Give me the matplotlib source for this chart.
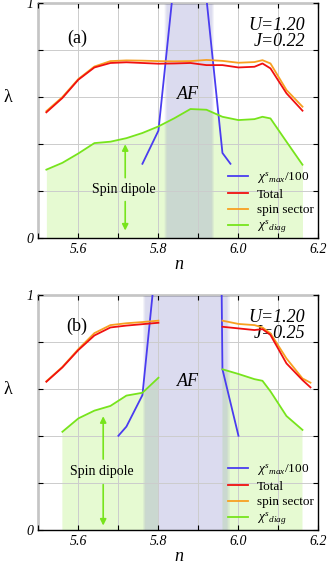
import numpy as np
import matplotlib
matplotlib.use('Agg')
from matplotlib import pyplot as plt
from matplotlib.ticker import MultipleLocator, FixedLocator, FuncFormatter

plt.rcParams['font.family'] = ['Liberation Serif', 'DejaVu Serif']
plt.rcParams['mathtext.fontset'] = 'custom'
plt.rcParams['mathtext.it'] = 'Liberation Serif:italic'
plt.rcParams['mathtext.rm'] = 'Liberation Serif'

nan = np.nan

# (a) U=1.20, J=0.22
n_a = [5.52, 5.56, 5.60, 5.64, 5.68, 5.72, 5.76, 5.80, 5.84, 5.88, 5.92, 5.96, 6.00, 6.04, 6.06, 6.08, 6.12, 6.16]
total_a = [0.535, 0.596, 0.674, 0.726, 0.745, 0.748, 0.745, 0.742, 0.743, 0.745, 0.736, 0.736, 0.726, 0.729, 0.743, 0.722, 0.616, 0.542]
spin_a = [0.540, 0.600, 0.677, 0.730, 0.753, 0.756, 0.755, 0.753, 0.752, 0.753, 0.758, 0.754, 0.746, 0.749, 0.757, 0.743, 0.630, 0.559]
diag_a = [0.291, 0.320, 0.360, 0.404, 0.410, 0.425, 0.447, 0.475, 0.510, 0.549, 0.546, 0.516, 0.502, 0.506, 0.516, 0.509, 0.410, 0.312]
nchi_a = [5.76, 5.80, 5.84, 5.88, 5.92, 5.96, 5.98]
chi_a = [0.316, 0.457, 1.11, 3.0, 1.02, 0.362, 0.316]
af_a = (5.818, 5.936)

# (b) U=1.20, J=0.25  (nan = AF region, no data)
n_b = [5.52, 5.56, 5.60, 5.64, 5.68, 5.72, 5.76, 5.80, 5.88, 5.96, 6.00, 6.04, 6.06, 6.08, 6.12, 6.16, 6.18]
total_b = [0.631, 0.692, 0.766, 0.828, 0.862, 0.870, 0.876, 0.882, nan, 0.865, 0.858, 0.851, 0.855, 0.830, 0.709, 0.638, 0.607]
spin_b = [0.633, 0.694, 0.770, 0.838, 0.872, 0.880, 0.885, 0.891, nan, 0.891, 0.877, 0.872, 0.862, 0.837, 0.730, 0.645, 0.627]
diag_b = [nan, 0.418, 0.475, 0.508, 0.528, 0.572, 0.584, 0.648, nan, 0.684, 0.664, 0.642, 0.635, 0.590, 0.485, 0.426, nan]
nchi_b = [5.70, 5.72, 5.76, 5.80, 5.88, 5.955, 5.96, 6.00]
chi_b = [0.401, 0.440, 0.574, 1.25, 3.0, 1.5, 0.684, 0.401]
af_b = (5.765, 5.975)

panels = [
    dict(n=n_a, total=total_a, spin=spin_a, diag=diag_a, nchi=nchi_a, chi=chi_a, af=af_a,
         tag='(a)', J='J=0.22', tagy=0.851, af_y=0.61, arr_x=5.717, arr_top=0.411, arr_bot=0.02,
         txt_y=0.206, gap=(0.245, 0.167)),
    dict(n=n_b, total=total_b, spin=spin_b, diag=diag_b, nchi=nchi_b, chi=chi_b, af=af_b,
         tag='(b)', J='J=0.25', tagy=0.865, af_y=0.63, arr_x=5.662, arr_top=0.496, arr_bot=0.007,
         txt_y=0.248, gap=(0.29, 0.205)),
]

fig = plt.figure(figsize=(3.28, 5.62), dpi=100)
boxes = [[0.117, 0.5765, 0.854, 0.418], [0.117, 0.057, 0.854, 0.418]]

green = '#77e41c'


def af_band(ax, lo, hi, blur=0.008, steps=6):
    # lavender AF region with soft edges
    ax.axvspan(lo + blur / 2, hi - blur / 2, color='#8a8acd', alpha=0.3, lw=0, zorder=1.5)
    for k in range(steps):
        d = blur * (k + 1) / steps
        ax.axvspan(lo + blur / 2 - d, lo + blur / 2, color='#8a8acd', alpha=0.3 / steps, lw=0, zorder=1.5)
        ax.axvspan(hi - blur / 2, hi - blur / 2 + d, color='#8a8acd', alpha=0.3 / steps, lw=0, zorder=1.5)


for p, box in zip(panels, boxes):
    ax = fig.add_axes(box)
    n = np.array(p['n'])
    diag = np.array(p['diag'])
    ax.fill_between(n, 0, diag, color='#e6fad2', lw=0, zorder=1)
    af_band(ax, p['af'][0], p['af'][1])
    ax.plot(p['nchi'], p['chi'], color='#4a3cf0', lw=1.3, label=r'$\chi^s{}_{max}/100$', zorder=3)
    ax.plot(n, p['total'], color='#f01010', lw=1.3, label='Total', zorder=3.2)
    ax.plot(n, p['spin'], color='#f8a020', lw=1.3, label='spin sector', zorder=3.1)
    ax.plot(n, diag, color=green, lw=1.3, label=r'$\chi^s{}_{diag}$', zorder=3)

    # spin dipole arrows
    x = p['arr_x']
    ax.annotate('', xy=(x, p['arr_top']), xytext=(x, p['gap'][0]),
                arrowprops=dict(arrowstyle='-|>', color=green, lw=1.2, mutation_scale=9))
    ax.annotate('', xy=(x, p['arr_bot']), xytext=(x, p['gap'][1]),
                arrowprops=dict(arrowstyle='-|>', color=green, lw=1.2, mutation_scale=9))
    ax.text(x - 0.003, p['txt_y'], 'Spin dipole', ha='center', va='center', fontsize=10)

    ax.text(0.137, p['tagy'], p['tag'], transform=ax.transAxes, ha='center', va='center', fontsize=13)
    ax.text(0.952, 0.905, 'U=1.20', transform=ax.transAxes, ha='right', va='center',
            fontsize=13, style='italic')
    ax.text(0.952, 0.837, p['J'], transform=ax.transAxes, ha='right', va='center',
            fontsize=13, style='italic')
    ax.text(0.533, p['af_y'], 'AF', transform=ax.transAxes, ha='center', va='center',
            fontsize=13, style='italic')

    ax.set_xlim(5.5, 6.2)
    ax.set_ylim(0, 1)
    ax.xaxis.set_major_locator(MultipleLocator(0.2))
    ax.xaxis.set_minor_locator(MultipleLocator(0.1))
    ax.xaxis.set_major_formatter(FuncFormatter(lambda v, pos: '%.1f' % v))
    ax.yaxis.set_major_locator(FixedLocator([0, 0.2, 0.4, 0.6, 0.8, 1.0]))
    ax.yaxis.set_major_formatter(FuncFormatter(lambda v, pos: '%g' % v if v in (0, 1) else ''))
    ax.tick_params(which='both', direction='in', top=True, right=True, length=3.5, width=0.8,
                   labelsize=10)
    for lab in ax.get_xticklabels() + ax.get_yticklabels():
        lab.set_style('italic')
    ax.grid(which='both', color='#cccccc', lw=0.7)
    ax.set_axisbelow(False)
    for s in ax.spines.values():
        s.set_linewidth(1.0)
    ax.set_xlabel('n', fontsize=13, style='italic', labelpad=0)
    ax.set_ylabel('λ', fontsize=13, rotation=0, va='center')
    ax.yaxis.set_label_coords(-0.11, 0.6)

    leg = ax.legend(loc='lower left', bbox_to_anchor=(0.655, -0.016), frameon=False, fontsize=9.5,
                    handlelength=1.45, handletextpad=0.7, labelspacing=0.22, borderpad=0.0)
    leg.get_texts()[0].set_style('italic')

fig.savefig('out.png', dpi=100)
